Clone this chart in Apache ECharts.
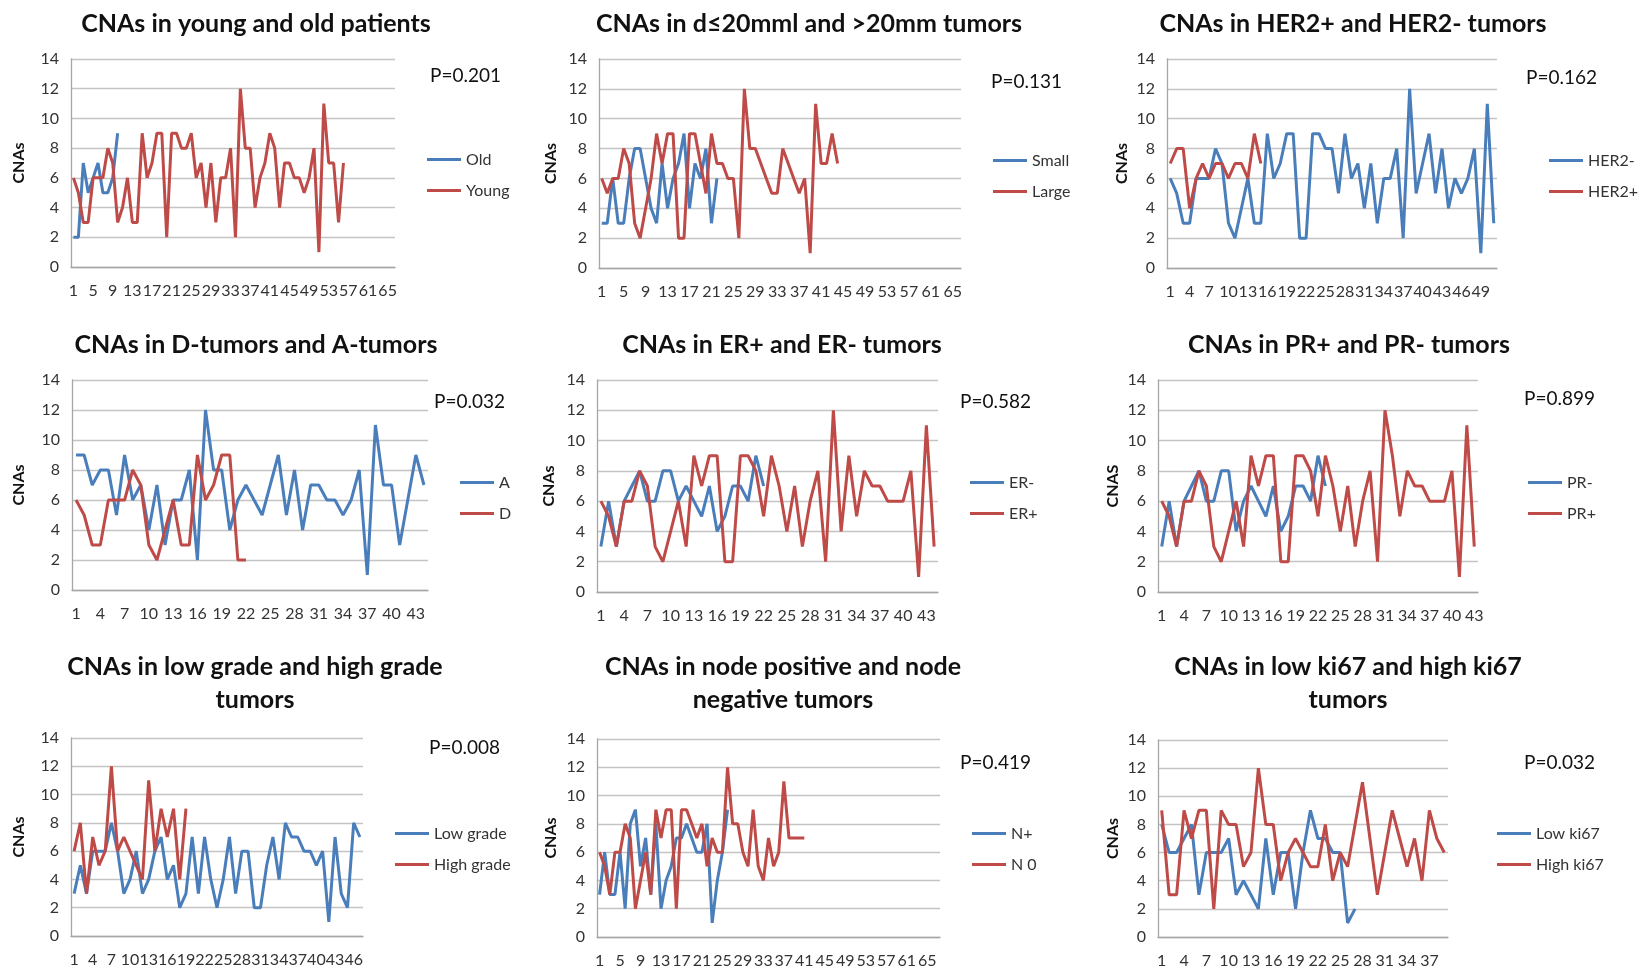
<!DOCTYPE html>
<html><head><meta charset="utf-8">
<script src="https://cdn.jsdelivr.net/npm/echarts@6/dist/echarts.min.js"></script>
<style>html,body{margin:0;padding:0;background:#fff}#c{width:1639px;height:969px}</style>
</head><body><div id="c"></div>
<script>
// ---------- data ----------
const titles = [
  'CNAs in young and old patients',
  'CNAs in d\u226420mml and >20mm tumors',
  'CNAs in HER2+ and HER2- tumors',
  'CNAs in D-tumors and A-tumors',
  'CNAs in ER+ and ER- tumors',
  'CNAs in PR+ and PR- tumors',
  'CNAs in low grade and high grade\ntumors',
  'CNAs in node positive and node\nnegative tumors',
  'CNAs in low ki67 and high ki67\ntumors'
];
const pValues = ['P=0.201','P=0.131','P=0.162','P=0.032','P=0.582','P=0.899','P=0.008','P=0.419','P=0.032'];
const seriesNames = [
  ['Old','Young'],['Small','Large'],['HER2-','HER2+'],
  ['A','D'],['ER-','ER+'],['PR-','PR+'],
  ['Low grade','High grade'],['N+','N 0'],['Low ki67','High ki67']
];
const yAxisNames = ['CNAs','CNAs','CNAs','CNAs','CNAs','CNAS','CNAs','CNAs','CNAs'];
const categoryCounts = [66,66,51,44,44,43,47,67,39];
const tickLabelStep = [4,4,3,3,3,3,3,4,3];
const yTicks = [0,2,4,6,8,10,12,14];

const oldPatients   = [2,2,7,5,6,7,5,5,6,9];
const youngPatients = [6,5,3,3,6,6,6,8,7,3,4,6,3,3,9,6,7,9,9,2,9,9,8,8,9,6,7,4,7,3,6,6,8,2,12,8,8,4,6,7,9,8,4,7,7,6,6,5,6,8,1,11,7,7,3,7];
const smallTumors   = [3,3,6,3,3,6,8,8,6,4,3,7,4,6,7,9,4,7,6,8,3,6];
const largeTumors   = [6,5,6,6,8,7,3,2,4,6,9,7,9,9,2,2,9,9,7,5,9,7,7,6,6,2,12,8,8,7,6,5,5,8,7,6,5,6,1,11,7,7,9,7];
const her2Neg       = [6,5,3,3,6,6,6,8,7,3,2,4,6,3,3,9,6,7,9,9,2,2,9,9,8,8,5,9,6,7,4,7,3,6,6,8,2,12,5,7,9,5,8,4,6,5,6,8,1,11,3];
const her2Pos       = [7,8,8,4,6,7,6,7,7,6,7,7,6,9,7];
const aTumors       = [9,9,7,8,8,5,9,6,7,4,7,3,6,6,8,2,12,8,8,4,6,7,6,5,7,9,5,8,4,7,7,6,6,5,6,8,1,11,7,7,3,6,9,7];
const dTumors       = [6,5,3,3,6,6,6,8,7,3,2,4,6,3,3,9,6,7,9,9,2,2];
const erNeg         = [3,6,3,6,7,8,6,6,8,8,6,7,6,5,7,4,5,7,7,6,9,7];
const erPos         = [6,5,3,6,6,8,7,3,2,4,6,3,9,7,9,9,2,2,9,9,8,5,9,7,4,7,3,6,8,2,12,4,9,5,8,7,7,6,6,6,8,1,11,3];
const prNeg         = [3,6,3,6,7,8,6,6,8,8,4,6,7,6,5,7,4,5,7,7,6,9,7];
const prPos         = [6,5,3,6,6,8,7,3,2,4,6,3,9,7,9,9,2,2,9,9,8,5,9,7,4,7,3,6,8,2,12,9,5,8,7,7,6,6,6,8,1,11,3];
const lowGrade      = [3,5,3,6,6,6,8,6,3,4,6,3,4,6,7,4,5,2,3,7,3,7,4,2,4,7,3,6,6,2,2,5,7,4,8,7,7,6,6,5,6,1,7,3,2,8,7];
const highGrade     = [6,8,3,7,5,6,12,6,7,6,5,4,11,6,9,7,9,4,9];
const nodePos       = [3,6,3,3,6,2,8,9,5,7,3,8,2,4,5,7,7,8,7,6,6,8,1,4,6,9];
const nodeNeg       = [6,5,3,6,6,8,7,2,4,6,3,9,7,9,9,2,9,9,8,7,8,5,7,6,6,12,8,8,6,5,9,5,4,7,5,6,11,7,7,7,7];
const lowKi67       = [8,6,6,7,8,3,6,6,6,7,3,4,3,2,7,3,6,6,2,6,9,7,7,6,6,1,2];
const highKi67      = [9,3,3,9,7,9,9,2,9,8,8,5,6,12,8,8,4,6,7,6,5,5,8,4,6,5,8,11,7,3,6,9,7,5,7,4,9,7,6];

const panelSeries = [
  [oldPatients, youngPatients],[smallTumors, largeTumors],[her2Neg, her2Pos],
  [aTumors, dTumors],[erNeg, erPos],[prNeg, prPos],
  [lowGrade, highGrade],[nodePos, nodeNeg],[lowKi67, highKi67]
];

// ---------- layout ----------
const grids = [
  {left:71,  top:59,  width:324, height:208},
  {left:599, top:59,  width:362, height:209},
  {left:1167,top:59,  width:330, height:209},
  {left:72,  top:380, width:356, height:210},
  {left:597, top:380, width:341, height:212},
  {left:1158,top:380, width:320, height:212},
  {left:71,  top:738, width:292, height:198},
  {left:597, top:739, width:343, height:198},
  {left:1158,top:740, width:290, height:197}
];
const titleCenters = [[256,7],[809,7],[1353,7],[256,328],[782,328],[1349,328],[255,650],[783,650],[1348,650]];
const pPos = [[430,66],[991,72],[1526,68],[434,392],[960,392],[1524,389],[429,738],[960,753],[1524,753]];
const legendPos = [[427,150],[993,151],[1549,151],[460,473],[970,473],[1528,473],[395,824],[972,824],[1497,824]];
const nameGaps = [44,40,37,45,40,37,44,38,37];

const FONT = 'Lato, "Open Sans", sans-serif';
const BLUE = '#4A7EBB', RED = '#BE4B48';

const option = {
  animation:false,
  backgroundColor:'#fff',
  title:[], legend:[], grid:[], xAxis:[], yAxis:[], series:[]
};

for (let i = 0; i < 9; i++) {
  const cats = Array.from({length: categoryCounts[i]}, (_, k) => String(k + 1));
  option.grid.push(Object.assign({containLabel:false}, grids[i]));
  option.title.push({
    text: titles[i], left: titleCenters[i][0], top: titleCenters[i][1], textAlign:'center', padding:0,
    textStyle:{fontFamily:FONT, fontSize:25, fontWeight:'bold', color:'#111', lineHeight:33}
  });
  option.title.push({
    text: pValues[i], left: pPos[i][0], top: pPos[i][1], padding:0,
    textStyle:{fontFamily:FONT, fontSize:19, fontWeight:'normal', color:'#111'}
  });
  option.legend.push({
    data: seriesNames[i], orient:'vertical', left: legendPos[i][0], top: legendPos[i][1],
    icon:'rect', itemWidth:34, itemHeight:3, itemGap:12, padding:0, selectedMode:false,
    textStyle:{fontFamily:FONT, fontSize:16, color:'#333', lineHeight:19}
  });
  option.xAxis.push({
    type:'category', gridIndex:i, data:cats, boundaryGap:true,
    axisTick:{show:false},
    axisLine:{lineStyle:{color:'#A6A6A6', width:1.3}},
    axisLabel:{interval: tickLabelStep[i]-1, fontFamily:FONT, fontSize:16, color:'#333', margin:16, hideOverlap:false},
    splitLine:{show:false}
  });
  option.yAxis.push({
    type:'value', gridIndex:i, min:yTicks[0], max:yTicks[yTicks.length-1], interval:2,
    name: yAxisNames[i], nameLocation:'middle', nameGap: nameGaps[i],
    nameTextStyle:{fontFamily:FONT, fontSize:16, fontWeight:'bold', color:'#111'},
    axisLine:{show:true, lineStyle:{color:'#A6A6A6', width:1.3}},
    axisTick:{show:false},
    splitLine:{lineStyle:{color:'#C4C4C4', width:1.3}},
    axisLabel:{fontFamily:FONT, fontSize:16, color:'#333', margin:12}
  });
  [BLUE, RED].forEach((col, s) => {
    option.series.push({
      type:'line', name: seriesNames[i][s], xAxisIndex:i, yAxisIndex:i,
      data: panelSeries[i][s], symbol:'none', smooth:false,
      lineStyle:{color:col, width:3}, itemStyle:{color:col}
    });
  });
}

const chart = echarts.init(document.getElementById('c'), null, {renderer:'canvas'});
chart.setOption(option);
</script>
</body></html>
